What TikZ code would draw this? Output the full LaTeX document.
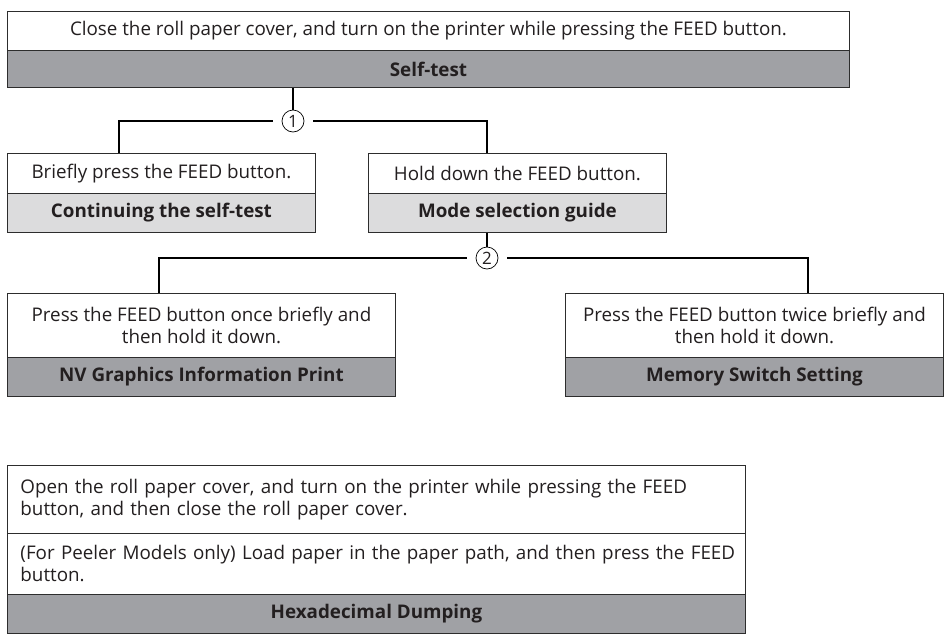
\documentclass[tikz,border=0pt]{standalone}
\usepackage{fontspec}
\setmainfont{Open Sans}
\definecolor{bandgray}{RGB}{160,161,165}
\definecolor{lightband}{RGB}{220,220,221}
\definecolor{boxline}{RGB}{45,45,45}
\definecolor{txt}{RGB}{35,31,32}
\newcommand{\fs}{\fontsize{18.8}{22}\selectfont}
\begin{document}
\begin{tikzpicture}[x=1pt,y=-1pt,
  base/.style={draw=boxline, line width=0.9pt, inner sep=0pt, anchor=north west, text=txt, font=\fs},
  wbox/.style={base, fill=white, align=center},
  dband/.style={base, fill=bandgray, font=\fs\bfseries},
  lband/.style={base, fill=lightband, font=\fs\bfseries},
  lbox/.style={base, fill=white, align=left, text width=#1, inner xsep=13pt},
  conn/.style={draw=black, line width=1.2pt},
  circ/.style={circle, draw=black, line width=0.7pt, minimum size=22pt, inner sep=0pt, fill=white, text=txt, font=\fontsize{17}{17}\selectfont}
]
\useasboundingbox (0,0) rectangle (946,633);
\fill[white] (0,0) rectangle (946,633);

% top
\node[wbox, minimum width=842pt, minimum height=39pt] (top) at (7,11) {Close the roll paper cover, and turn on the printer while pressing the FEED button.};
\node[dband, minimum width=842pt, minimum height=37pt] (selftest) at (7,50) {Self-test};

% level 1
\node[wbox, minimum width=308pt, minimum height=40pt] (brief) at (7,153) {Briefly press the FEED button.};
\node[lband, minimum width=308pt, minimum height=39pt] (cont) at (7,193) {Continuing the self-test};
\node[wbox, minimum width=298pt, minimum height=40pt] (hold) at (368,153) {Hold down the FEED button.};
\node[lband, minimum width=298pt, minimum height=39pt] (mode) at (368,193) {Mode selection guide};

% level 2
\node[wbox, minimum width=388pt, minimum height=64pt] (once) at (7,293) {Press the FEED button once briefly and\\then hold it down.};
\node[dband, minimum width=388pt, minimum height=39pt] (nv) at (7,357) {NV Graphics Information Print};
\node[wbox, minimum width=378pt, minimum height=64pt] (twice) at (565,293) {Press the FEED button twice briefly and\\then hold it down.};
\node[dband, minimum width=378pt, minimum height=39pt] (mem) at (565,357) {Memory Switch Setting};

% hex
\node[lbox=712pt, minimum height=68pt] (open) at (7,465) {\mbox{Open the roll paper cover, and turn on the printer while pressing the FEED}\\\mbox{button, and then close the roll paper cover.}\\[-4pt]};
\node[lbox=712pt, minimum height=61pt] (peel) at (7,533) {\mbox{(For Peeler Models only) Load paper in the paper path, and then press the FEED}\\\mbox{button.}};
\node[dband, minimum width=738pt, minimum height=39pt] (hex) at (7,594) {Hexadecimal Dumping};

% circles
\node[circ] (c1) at (293,121) {1};
\node[circ] (c2) at (487,258) {2};

\coordinate (kb) at (119,0);
\coordinate (kh) at (487,0);
\coordinate (kn) at (159,0);
\coordinate (km) at (808,0);

\draw[conn] (selftest.south -| c1) -- (c1.north);
\draw[conn] (c1.west) ++(-9,0) -| (brief.north -| kb);
\draw[conn] (c1.east) ++(9,0) -| (hold.north -| kh);
\draw[conn] (mode.south -| c2) -- (c2.north);
\draw[conn] (c2.west) ++(-9,0) -| (once.north -| kn);
\draw[conn] (c2.east) ++(9,0) -| (twice.north -| km);
\end{tikzpicture}
\end{document}
